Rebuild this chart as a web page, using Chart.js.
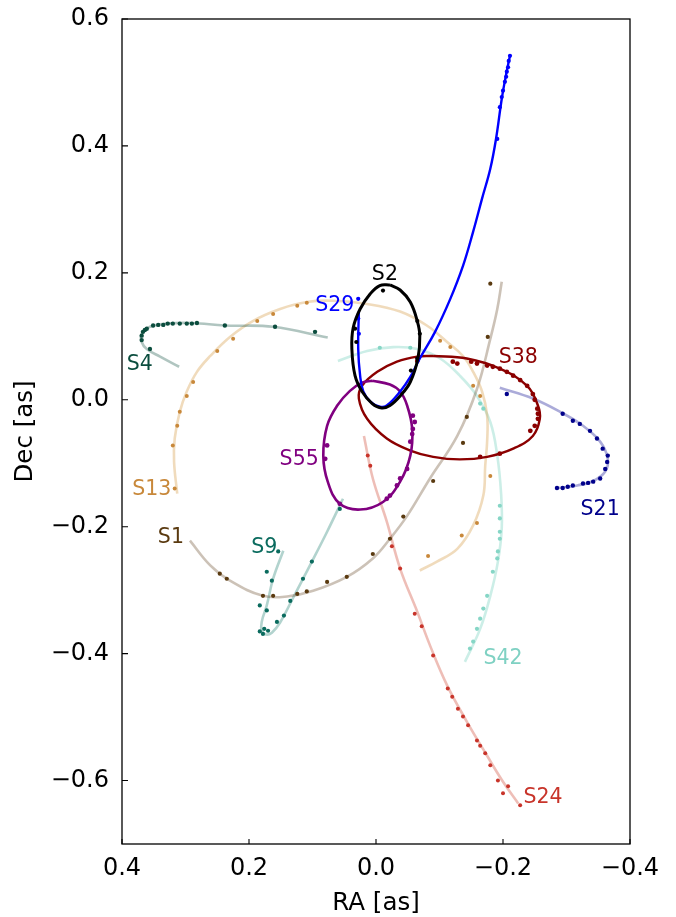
<!DOCTYPE html>
<html><head><meta charset="utf-8">
<script src="https://cdn.jsdelivr.net/npm/chart.js@4.4.0/dist/chart.umd.min.js"></script>
<style>html,body{margin:0;padding:0;background:#fff;}canvas{display:block;}</style>
</head><body>
<canvas id="c" width="676" height="917"></canvas>
<script>
// ---- axes ----
const xTicks = [0.4, 0.2, 0.0, -0.2, -0.4];
const xTickLabels = ['0.4', '0.2', '0.0', '\u22120.2', '\u22120.4'];
const yTicks = [0.6, 0.4, 0.2, 0.0, -0.2, -0.4, -0.6];
const yTickLabels = ['0.6', '0.4', '0.2', '0.0', '\u22120.2', '\u22120.4', '\u22120.6'];

// ---- model orbits [RA, Dec] in arcsec ----
const s2Orbit = [[-0.022,0.181],[-0.006,0.180],[0.009,0.167],[0.025,0.143],[0.036,0.113],[0.038,0.080],[0.033,0.038],[0.022,0.013],[0.006,-0.006],[-0.009,-0.013],[-0.022,-0.009],[-0.038,0.006],[-0.054,0.028],[-0.066,0.065],[-0.069,0.101],[-0.065,0.124],[-0.054,0.154],[-0.038,0.173],[-0.022,0.181]];
const s29Orbit = [[-0.211,0.542],[-0.205,0.513],[-0.198,0.474],[-0.189,0.411],[-0.180,0.364],[-0.167,0.317],[-0.153,0.265],[-0.137,0.211],[-0.117,0.159],[-0.093,0.107],[-0.069,0.065],[-0.054,0.036],[-0.038,0.013],[-0.017,-0.009],[-0.006,-0.011],[0.009,-0.003],[0.020,0.013],[0.025,0.038],[0.028,0.080],[0.027,0.139]];
const s38Orbit = [[-0.090,0.069],[-0.143,0.065],[-0.195,0.049],[-0.238,0.022],[-0.255,-0.009],[-0.258,-0.030],[-0.247,-0.057],[-0.216,-0.077],[-0.175,-0.090],[-0.132,-0.094],[-0.090,-0.090],[-0.054,-0.080],[-0.017,-0.061],[0.014,-0.030],[0.027,0.002],[0.022,0.022],[-0.002,0.044],[-0.033,0.060],[-0.065,0.068],[-0.090,0.069]];
const s55Orbit = [[0.006,0.030],[-0.022,0.024],[-0.038,0.013],[-0.049,-0.009],[-0.057,-0.046],[-0.054,-0.088],[-0.038,-0.129],[-0.011,-0.161],[0.025,-0.173],[0.057,-0.164],[0.076,-0.129],[0.083,-0.088],[0.077,-0.041],[0.061,-0.009],[0.041,0.014],[0.022,0.027],[0.006,0.030]];
const s4Orbit = [[0.076,0.098],[0.162,0.115],[0.238,0.117],[0.290,0.121],[0.329,0.120],[0.356,0.115],[0.369,0.104],[0.369,0.091],[0.361,0.080],[0.340,0.068],[0.310,0.052]];
const s13Orbit = [[0.313,-0.148],[0.318,-0.098],[0.317,-0.061],[0.309,-0.019],[0.298,0.013],[0.282,0.044],[0.261,0.069],[0.230,0.099],[0.194,0.124],[0.151,0.143],[0.109,0.154],[0.068,0.156],[0.014,0.151],[-0.038,0.139],[-0.080,0.117],[-0.112,0.091],[-0.137,0.069],[-0.153,0.044],[-0.167,0.013],[-0.175,-0.025],[-0.175,-0.066],[-0.172,-0.104],[-0.169,-0.151],[-0.153,-0.198],[-0.128,-0.235],[-0.096,-0.255],[-0.069,-0.269]];
const s1Orbit = [[0.293,-0.222],[0.261,-0.261],[0.230,-0.285],[0.178,-0.309],[0.140,-0.310],[0.099,-0.301],[0.046,-0.279],[0.005,-0.250],[-0.022,-0.219],[-0.049,-0.183],[-0.085,-0.124],[-0.128,-0.057],[-0.159,0.017],[-0.180,0.096],[-0.191,0.143],[-0.198,0.186]];
const s9Orbit = [[0.146,-0.238],[0.162,-0.282],[0.172,-0.324],[0.180,-0.350],[0.180,-0.364],[0.173,-0.370],[0.164,-0.367],[0.151,-0.351],[0.131,-0.313],[0.104,-0.261],[0.077,-0.208],[0.052,-0.156]];
const s21Orbit = [[-0.195,0.019],[-0.247,0.002],[-0.290,-0.019],[-0.326,-0.041],[-0.353,-0.066],[-0.365,-0.093],[-0.361,-0.113],[-0.342,-0.128],[-0.317,-0.135],[-0.285,-0.139]];
const s42Orbit = [[0.060,0.061],[0.014,0.077],[-0.027,0.083],[-0.065,0.080],[-0.101,0.065],[-0.132,0.038],[-0.159,0.006],[-0.180,-0.035],[-0.191,-0.088],[-0.197,-0.148],[-0.198,-0.203],[-0.192,-0.255],[-0.180,-0.309],[-0.164,-0.361],[-0.140,-0.413]];
const s24Orbit = [[0.019,-0.057],[0.005,-0.124],[-0.017,-0.192],[-0.038,-0.266],[-0.065,-0.334],[-0.085,-0.387],[-0.112,-0.450],[-0.143,-0.507],[-0.175,-0.561],[-0.200,-0.602],[-0.224,-0.636]];

// ---- observed astrometry [RA, Dec] ----
const s2Obs = [[-0.011,0.172],[-0.065,0.124],[-0.069,0.104],[-0.065,0.065],[-0.055,0.046],[0.031,0.091],[0.033,0.112]];
const s29Obs = [[-0.211,0.542],[-0.209,0.534],[-0.208,0.524],[-0.206,0.517],[-0.205,0.509],[-0.203,0.501],[-0.200,0.487],[-0.198,0.477],[-0.195,0.461],[-0.191,0.411],[0.028,0.159],[0.028,0.128],[0.027,0.104]];
const s38Obs = [[-0.065,0.061],[-0.121,0.060],[-0.128,0.057],[-0.150,0.060],[-0.159,0.057],[-0.175,0.054],[-0.184,0.052],[-0.195,0.049],[-0.206,0.044],[-0.216,0.038],[-0.227,0.031],[-0.238,0.022],[-0.247,0.009],[-0.250,0.000],[-0.254,-0.014],[-0.255,-0.022],[-0.255,-0.030],[-0.250,-0.041],[-0.243,-0.049],[-0.195,-0.085],[-0.164,-0.090]];
const s55Obs = [[-0.058,-0.025],[-0.061,-0.035],[-0.058,-0.046],[-0.057,-0.054],[-0.054,-0.066],[-0.049,-0.109],[-0.038,-0.124],[-0.033,-0.135],[-0.022,-0.151],[-0.017,-0.156],[0.057,-0.164],[0.077,-0.072],[0.080,-0.093]];
const s4Obs = [[0.369,0.101],[0.369,0.094],[0.367,0.107],[0.364,0.110],[0.361,0.112],[0.351,0.117],[0.343,0.118],[0.335,0.118],[0.328,0.120],[0.320,0.120],[0.309,0.120],[0.298,0.120],[0.290,0.120],[0.282,0.121],[0.356,0.080],[0.238,0.117],[0.159,0.115],[0.096,0.107]];
const s13Obs = [[0.317,-0.140],[0.320,-0.072],[0.313,-0.041],[0.309,-0.019],[0.298,0.006],[0.288,0.028],[0.250,0.077],[0.225,0.096],[0.187,0.124],[0.162,0.135],[0.124,0.148],[0.109,0.153],[-0.101,0.093],[-0.117,0.083],[-0.153,0.022],[-0.164,0.006],[-0.180,-0.120],[-0.159,-0.194],[-0.135,-0.214],[-0.082,-0.246]];
const s1Obs = [[0.246,-0.274],[0.235,-0.282],[0.178,-0.309],[0.162,-0.309],[0.124,-0.306],[0.109,-0.302],[0.077,-0.287],[0.046,-0.279],[0.005,-0.243],[-0.022,-0.219],[-0.043,-0.184],[-0.090,-0.128],[-0.137,-0.068],[-0.176,0.099],[-0.180,0.183],[-0.143,-0.027]];
const s9Obs = [[0.183,-0.365],[0.178,-0.369],[0.176,-0.361],[0.170,-0.364],[0.156,-0.350],[0.145,-0.340],[0.135,-0.317],[0.115,-0.282],[0.101,-0.255],[0.172,-0.271],[0.164,-0.285],[0.183,-0.324],[0.172,-0.332],[0.154,-0.239],[0.057,-0.172]];
const s21Obs = [[-0.206,0.009],[-0.294,-0.022],[-0.310,-0.033],[-0.321,-0.038],[-0.337,-0.049],[-0.348,-0.061],[-0.357,-0.077],[-0.365,-0.088],[-0.364,-0.098],[-0.361,-0.109],[-0.353,-0.124],[-0.342,-0.129],[-0.334,-0.131],[-0.326,-0.132],[-0.310,-0.135],[-0.302,-0.137],[-0.294,-0.139],[-0.285,-0.139]];
const s42Obs = [[-0.006,0.082],[-0.054,0.082],[-0.164,-0.006],[-0.169,-0.014],[-0.195,-0.167],[-0.195,-0.187],[-0.195,-0.208],[-0.195,-0.219],[-0.192,-0.239],[-0.191,-0.250],[-0.184,-0.271],[-0.175,-0.309],[-0.169,-0.329],[-0.164,-0.345],[-0.159,-0.361],[-0.153,-0.381],[-0.148,-0.392]];
const s24Obs = [[0.013,-0.088],[0.009,-0.104],[-0.025,-0.231],[-0.038,-0.266],[-0.061,-0.337],[-0.072,-0.357],[-0.090,-0.403],[-0.113,-0.455],[-0.120,-0.468],[-0.129,-0.487],[-0.137,-0.499],[-0.145,-0.513],[-0.159,-0.537],[-0.164,-0.545],[-0.172,-0.557],[-0.180,-0.576],[-0.192,-0.600],[-0.208,-0.609],[-0.200,-0.620],[-0.227,-0.639]];

// ---- star labels ----
const starNames = ['S2','S29','S38','S55','S13','S1','S9','S4','S21','S42','S24'];
const labelRA  = [-0.014, 0.065, -0.224, 0.121, 0.353, 0.323, 0.176, 0.372, -0.353, -0.200, -0.263];
const labelDec = [0.197, 0.149, 0.067, -0.095, -0.142, -0.218, -0.233, 0.056, -0.173, -0.408, -0.627];
const labelColors = ['#000000','#0000ff','#8b0000','#800080','#c8883a','#5a3a10','#0a6b5e','#0b4d3e','#00008b','#7fd1c3','#c8342a'];

const toXY = a => a.map(p => ({x: p[0], y: p[1]}));

function orbit(data, color, width, order) {
  return {data: toXY(data), showLine: true, borderColor: color, borderWidth: width,
    pointRadius: 0, tension: 0.4, fill: false, order: order};
}
function obs(data, color, r, order) {
  return {data: toXY(data), showLine: false, pointRadius: r, pointStyle: 'circle',
    backgroundColor: color, borderColor: color, borderWidth: 0, order: order};
}

const datasets = [
  orbit(s4Orbit,  'rgba(30,90,75,0.35)', 2.6, 30),
  orbit(s13Orbit, 'rgba(215,160,80,0.38)', 2.6, 30),
  orbit(s1Orbit,  'rgba(110,80,50,0.35)', 2.6, 30),
  orbit(s9Orbit,  'rgba(20,120,105,0.33)', 2.6, 30),
  orbit(s21Orbit, 'rgba(0,0,140,0.33)', 2.6, 30),
  orbit(s42Orbit, 'rgba(110,205,185,0.35)', 2.6, 30),
  orbit(s24Orbit, 'rgba(205,70,50,0.35)', 2.6, 30),
  obs(s4Obs,  '#0b4d3e', 2.2, 20),
  obs(s13Obs, '#c8883a', 2.0, 20),
  obs(s1Obs,  '#5a3a10', 2.1, 20),
  obs(s9Obs,  '#0a6b5e', 2.1, 20),
  obs(s21Obs, '#00008b', 2.2, 20),
  obs(s42Obs, '#86d6c6', 2.1, 20),
  obs(s24Obs, '#c8342a', 2.0, 20),
  orbit(s38Orbit, '#8b0000', 2.4, 8),
  obs(s38Obs, '#8b0000', 2.4, 7),
  orbit(s55Orbit, '#800080', 2.6, 6),
  obs(s55Obs, '#800080', 2.4, 5),
  orbit(s29Orbit, '#0000ff', 2.4, 4),
  obs(s29Obs, '#0000ff', 2.1, 3),
  orbit(s2Orbit, '#000000', 3.0, 2),
  obs(s2Obs, '#000000', 2.1, 1)
];

const framePlugin = {
  id: 'framePlugin',
  afterDatasetsDraw(chart) {
    const {ctx, chartArea: a, scales: {x, y}} = chart;
    ctx.save();
    ctx.font = '20.5px "DejaVu Sans"';
    ctx.textAlign = 'center';
    ctx.textBaseline = 'middle';
    starNames.forEach((n, i) => {
      ctx.fillStyle = labelColors[i];
      ctx.fillText(n, x.getPixelForValue(labelRA[i]), y.getPixelForValue(labelDec[i]));
    });
    ctx.strokeStyle = '#000';
    ctx.lineWidth = 1.3;
    ctx.strokeRect(a.left, a.top, a.right - a.left, a.bottom - a.top);
    ctx.lineWidth = 1.1;
    ctx.beginPath();
    xTicks.forEach(v => { const px = x.getPixelForValue(v); ctx.moveTo(px, a.bottom); ctx.lineTo(px, a.bottom - 5); });
    yTicks.forEach(v => { const py = y.getPixelForValue(v); ctx.moveTo(a.left, py); ctx.lineTo(a.left + 6, py); });
    ctx.stroke();
    ctx.fillStyle = '#000';
    ctx.font = '24.5px "DejaVu Sans"';
    ctx.fillText('RA [as]', (a.left + a.right) / 2, a.bottom + 60);
    ctx.translate(a.left - 96, (a.top + a.bottom) / 2);
    ctx.rotate(-Math.PI / 2);
    ctx.fillText('Dec [as]', 0, 0);
    ctx.restore();
  }
};

new Chart(document.getElementById('c'), {
  type: 'scatter',
  data: {datasets},
  options: {
    responsive: false,
    animation: false,
    layout: {padding: {left: 0, top: 19, right: 46, bottom: 0}},
    plugins: {legend: {display: false}, tooltip: {enabled: false}},
    scales: {
      x: {
        type: 'linear', min: -0.4, max: 0.4, reverse: true,
        grid: {display: false, drawTicks: false}, border: {display: false},
        afterBuildTicks: s => { s.ticks = xTicks.map(v => ({value: v})); },
        afterFit: s => { s.height = 73; s.paddingLeft = 0; s.paddingRight = 0; },
        ticks: {autoSkip: false, padding: 10, color: '#000', font: {family: 'DejaVu Sans', size: 24},
          callback: (v, i) => xTickLabels[i]}
      },
      y: {
        type: 'linear', min: -0.7, max: 0.6,
        grid: {display: false, drawTicks: false}, border: {display: false},
        afterBuildTicks: s => { s.ticks = yTicks.map(v => ({value: v})); },
        afterFit: s => { s.width = 122; s.paddingTop = 0; s.paddingBottom = 0; },
        ticks: {autoSkip: false, padding: 13, color: '#000', font: {family: 'DejaVu Sans', size: 24},
          callback: (v, i) => yTickLabels[i]}
      }
    }
  },
  plugins: [framePlugin]
});
</script>
</body></html>
